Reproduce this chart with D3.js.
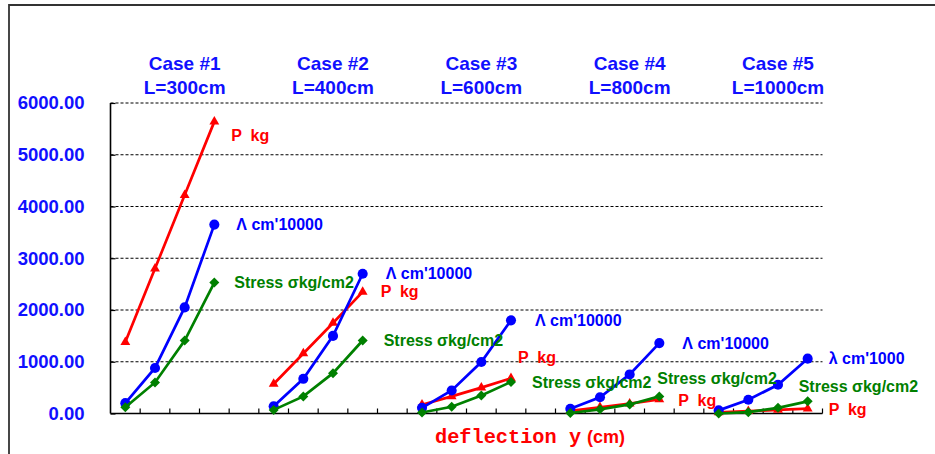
<!DOCTYPE html>
<html>
<head>
<meta charset="utf-8">
<script src="https://cdn.jsdelivr.net/npm/d3@7"></script>
<style>
  body { margin: 0; background: #fff; }
  svg { display: block; font-family: 'Liberation Sans', Arial, sans-serif; font-weight: bold; }
</style>
</head>
<body>
<svg width="935" height="454"></svg>
<script>
// chart data
var caseNames = ['Case #1', 'Case #2', 'Case #3', 'Case #4', 'Case #5']
var spanNames = ['L=300cm', 'L=400cm', 'L=600cm', 'L=800cm', 'L=1000cm']
var pKg = [[1380, 2800, 4220, 5640], [570, 1160, 1750, 2350], [170, 330, 500, 680], [50, 120, 190, 270], [20, 45, 70, 95]]
var lambdaCm = [[200, 880, 2050, 3650], [140, 670, 1500, 2700], [110, 445, 995, 1800], [90, 315, 755, 1360], [60, 265, 555, 1060]]
var stressKg = [[120, 600, 1410, 2530], [70, 330, 780, 1410], [20, 130, 350, 610], [10, 80, 175, 330], [0, 25, 110, 235]]
var pLabels = ['P  kg', 'P  kg', 'P  kg', 'P  kg', 'P  kg']
var lambdaLabels = ["Λ cm'10000", "Λ cm'10000", "Λ cm'10000", "Λ cm'10000", "λ cm'1000"]
var stressLabels = ['Stress σkg/cm2', 'Stress σkg/cm2', 'Stress σkg/cm2', 'Stress σkg/cm2', 'Stress σkg/cm2']
var yTicks = [0, 1000, 2000, 3000, 4000, 5000, 6000]
var pointsPerCase = 4
var slotsPerCase = 5 // 4 points and one empty slot between cases

// label offsets from the last point of each series (dx, dy)
var pOffsets = [[17, 14], [18, 0], [7, -21], [19, 1], [21, 1]]
var lambdaOffsets = [[22, 0], [23, 0], [24, 0], [23, 0], [21, 0]]
var stressOffsets = [[20, 0], [21, 0], [21, 0], [-2, -18], [-9, -15]]

var svg = d3.select('svg')
var margin = {top: 103, left: 110.5, right: 112.5, bottom: 40.5}
var W = 935
var H = 454

// outer chart frame
svg.append('path')
  .attr('d', 'M9,' + H + 'V5H' + W)
  .attr('fill', 'none')
  .attr('stroke', '#333')
  .attr('stroke-width', 1.8)

var slots = d3.range(caseNames.length * slotsPerCase - 1)
var x = d3.scaleBand()
  .domain(slots)
  .range([margin.left, W - margin.right])
  .padding(0)
var y = d3.scaleLinear()
  .domain([0, 6000])
  .range([H - margin.bottom, margin.top])

// dashed grid
svg.append('g')
  .selectAll('line')
  .data(yTicks.filter((d) => d > 0))
  .join('line')
  .attr('x1', margin.left)
  .attr('x2', W - margin.right)
  .attr('y1', (d) => y(d))
  .attr('y2', (d) => y(d))
  .attr('stroke', '#000')
  .attr('stroke-width', 1.2)
  .attr('stroke-dasharray', '3,2')

// y axis
var yAxis = d3.axisRight(y)
  .tickValues(yTicks)
  .tickSize(5)
  .tickFormat(d3.format('.2f'))
var gy = svg.append('g')
  .attr('transform', 'translate(' + margin.left + ',0)')
  .call(yAxis)
gy.select('.domain').attr('stroke', '#000').attr('stroke-width', 1.6).attr('d', 'M0,' + y(0) + 'V' + y(6000))
gy.selectAll('.tick line').attr('stroke', '#000').attr('stroke-width', 1.2)
gy.selectAll('.tick text')
  .attr('x', -26)
  .attr('text-anchor', 'end')
  .attr('fill', '#1010ff')
  .style('font-size', '18.5px')
  .style('font-family', "'Liberation Sans', Arial, sans-serif")
  .style('font-weight', 'bold')

// x axis: ticks between categories, pointing inside
var bounds = d3.range(slots.length + 1).map((i) => margin.left + i * x.bandwidth())
var gx = svg.append('g')
gx.append('line')
  .attr('x1', margin.left)
  .attr('x2', W - margin.right)
  .attr('y1', y(0))
  .attr('y2', y(0))
  .attr('stroke', '#000')
  .attr('stroke-width', 1.6)
gx.selectAll('.tk')
  .data(bounds.slice(1))
  .join('line')
  .attr('class', 'tk')
  .attr('x1', (d) => d)
  .attr('x2', (d) => d)
  .attr('y1', y(0))
  .attr('y2', y(0) - 5)
  .attr('stroke', '#000')
  .attr('stroke-width', 1.2)

// case headers
var cx = (k) => x(k * slotsPerCase + 2) + x.bandwidth() / 2
var heads = svg.append('g').attr('fill', '#1010ff').attr('text-anchor', 'middle').style('font-size', '19px')
heads.selectAll('.case')
  .data(caseNames)
  .join('text')
  .attr('class', 'case')
  .attr('x', (d, k) => cx(k))
  .attr('y', 70)
  .text((d) => d)
heads.selectAll('.span')
  .data(spanNames)
  .join('text')
  .attr('class', 'span')
  .attr('x', (d, k) => cx(k))
  .attr('y', 94)
  .text((d) => d)

// series
var px = (k, j) => x(k * slotsPerCase + j) + x.bandwidth() / 2
var line = d3.line()
var series = [
  {values: pKg, color: '#ff0000', symbol: d3.symbolTriangle, size: 42, rot: 0, labels: pLabels, offsets: pOffsets},
  {values: lambdaCm, color: '#0000ff', symbol: d3.symbolCircle, size: 80, rot: 0, labels: lambdaLabels, offsets: lambdaOffsets},
  {values: stressKg, color: '#008000', symbol: d3.symbolSquare, size: 50, rot: 45, labels: stressLabels, offsets: stressOffsets}
]

series.forEach(function (s) {
  var g = svg.append('g')
  s.values.forEach(function (vals, k) {
    var pts = vals.map((v, j) => [px(k, j), y(v)])
    g.append('path')
      .attr('d', line(pts))
      .attr('fill', 'none')
      .attr('stroke', s.color)
      .attr('stroke-width', 2.7)
    g.selectAll(null)
      .data(pts)
      .join('path')
      .attr('transform', (d) => 'translate(' + d[0] + ',' + d[1] + ') rotate(' + s.rot + ')')
      .attr('d', d3.symbol().type(s.symbol).size(s.size))
      .attr('fill', s.color)
  })
})

// series labels, after the lines so they sit on top
series.forEach(function (s) {
  s.values.forEach(function (vals, k) {
    var last = vals.length - 1
    svg.append('text')
      .attr('x', px(k, last) + s.offsets[k][0])
      .attr('y', y(vals[last]) + s.offsets[k][1])
      .attr('dy', '0.35em')
      .attr('fill', s.color)
      .style('font-size', '16px')
      .style('white-space', 'pre')
      .text(s.labels[k])
  })
})

// x axis title
var title = svg.append('text')
  .attr('x', 435)
  .attr('y', 443)
  .attr('fill', '#ff0000')
title.append('tspan')
  .style('font-family', "'Liberation Mono', 'Courier New', monospace")
  .style('font-size', '20.3px')
  .text('deflection y')
title.append('tspan')
  .attr('dx', 6)
  .style('font-size', '18px')
  .text('(cm)')
</script>
</body>
</html>
